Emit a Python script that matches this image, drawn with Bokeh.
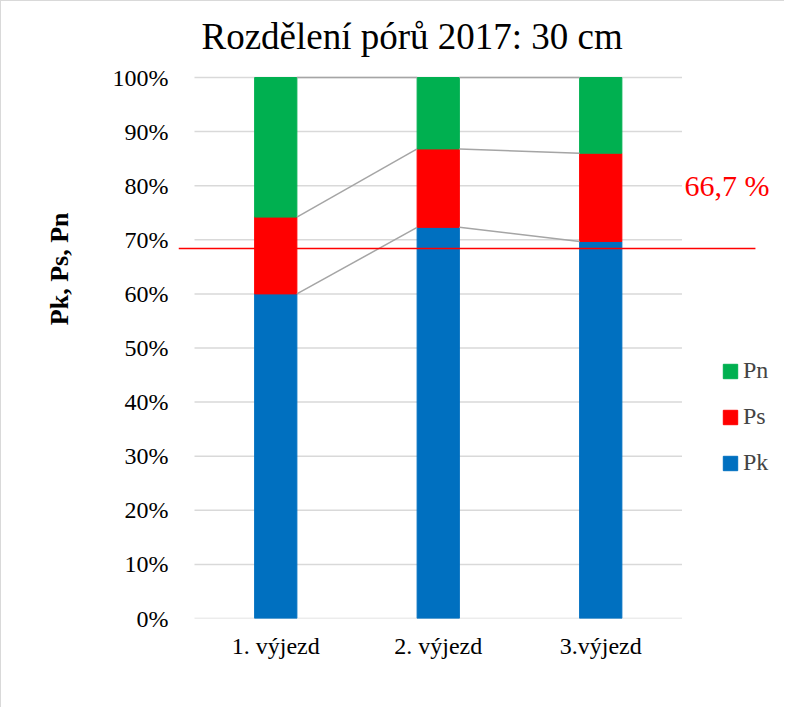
from bokeh.plotting import figure
from bokeh.models import (FixedTicker, Label, Legend, LegendItem, Title,
                          ColumnDataSource, Range1d)
from bokeh.embed import file_html
from bokeh.resources import INLINE

# ---- data -------------------------------------------------------------
categories = ["1. výjezd", "2. výjezd", "3.výjezd"]
pk = [60.0, 72.3, 69.7]
ps = [14.2, 14.5, 16.3]
pn = [25.8, 13.2, 14.0]
series_names = ["Pk", "Ps", "Pn"]
series_colors = ["#0070C0", "#FF0000", "#00B050"]
y_ticks = [0, 10, 20, 30, 40, 50, 60, 70, 80, 90, 100]
y_labels = ["0%", "10%", "20%", "30%", "40%", "50%", "60%", "70%", "80%", "90%", "100%"]
threshold = 68.4
threshold_text = "66,7 %"
title_text = "Rozdělení pórů 2017: 30 cm"
y_title = "Pk, Ps, Pn"

FONT = "Liberation Serif"
bar_w = 0.26
x_pos = [i + 0.5 for i in range(len(categories))]
x_start, x_end = -0.0985, 3.637
y_start, y_end = 0, 114.05
line_end = 3.452

src = ColumnDataSource(dict(x=x_pos, Pk=pk, Ps=ps, Pn=pn))

p = figure(width=784, height=707,
           x_range=Range1d(x_start, x_end), y_range=Range1d(y_start, y_end),
           output_backend="svg", toolbar_location=None,
           min_border_left=177, min_border_right=0,
           min_border_top=0, min_border_bottom=90)
p.outline_line_color = None
p.xgrid.visible = False
p.ygrid.visible = False
p.styles = {"border-left": "1px solid #D9D9D9", "border-top": "1px solid #D9D9D9"}

# chart title (placed above the 100% line)
p.add_layout(Label(x=0.043, y=107.5, text=title_text, text_font=FONT,
                   text_font_size="37px", text_color="black",
                   text_align="left", text_baseline="alphabetic"))

# y axis title
p.add_layout(Title(text=y_title, align="right", offset=211, text_font=FONT,
                   text_font_size="26px", text_font_style="bold", text_color="black",
                   standoff=71), "left")

# gridlines (plot area only)
n = len(categories)
p.segment(x0=[0] * len(y_ticks), y0=y_ticks, x1=[n] * len(y_ticks), y1=y_ticks,
          line_color="#D9D9D9", line_width=1.5)

# stacked bars
rs = p.vbar_stack(series_names, x="x", width=bar_w, color=series_colors, source=src)

# series lines between bars
cum1 = pk
cum2 = [a + b for a, b in zip(pk, ps)]
cum3 = [a + b + c for a, b, c in zip(pk, ps, pn)]
for cum in (cum1, cum2, cum3):
    p.segment(x0=[x + bar_w / 2 for x in x_pos[:-1]], y0=cum[:-1],
              x1=[x - bar_w / 2 for x in x_pos[1:]], y1=cum[1:],
              line_color="#A5A5A5", line_width=1.5)

# red threshold line & label
p.segment(x0=[x_start], y0=[threshold], x1=[line_end], y1=[threshold],
          line_color="red", line_width=1.5)
p.add_layout(Label(x=3.015, y=80, text=threshold_text, text_font=FONT,
                   text_font_size="30px", text_color="red", text_baseline="middle",
                   background_fill_color="white"))

# axes
p.yaxis.ticker = FixedTicker(ticks=y_ticks)
p.yaxis.major_label_overrides = {t: l for t, l in zip(y_ticks, y_labels)}
p.xaxis.ticker = FixedTicker(ticks=x_pos)
p.xaxis.major_label_overrides = {x: c for x, c in zip(x_pos, categories)}
for ax in (p.xaxis[0], p.yaxis[0]):
    ax.axis_line_color = None
    ax.major_tick_line_color = None
    ax.minor_tick_line_color = None
    ax.major_label_text_font = FONT
    ax.major_label_text_font_size = "24px"
    ax.major_label_text_color = "black"
p.yaxis.major_label_standoff = 4
p.xaxis.major_label_standoff = 8

# legend
items = [LegendItem(label=name, renderers=[r]) for name, r in zip(series_names, rs)][::-1]
legend = Legend(items=items, location=(543, 142), glyph_width=18, glyph_height=18,
                label_height=18, label_text_font=FONT, label_text_font_size="24px",
                label_standoff=4, spacing=19, padding=0, margin=0,
                border_line_color=None, background_fill_alpha=0)
p.add_layout(legend)

open("out.html", "w").write(file_html(p, INLINE))
